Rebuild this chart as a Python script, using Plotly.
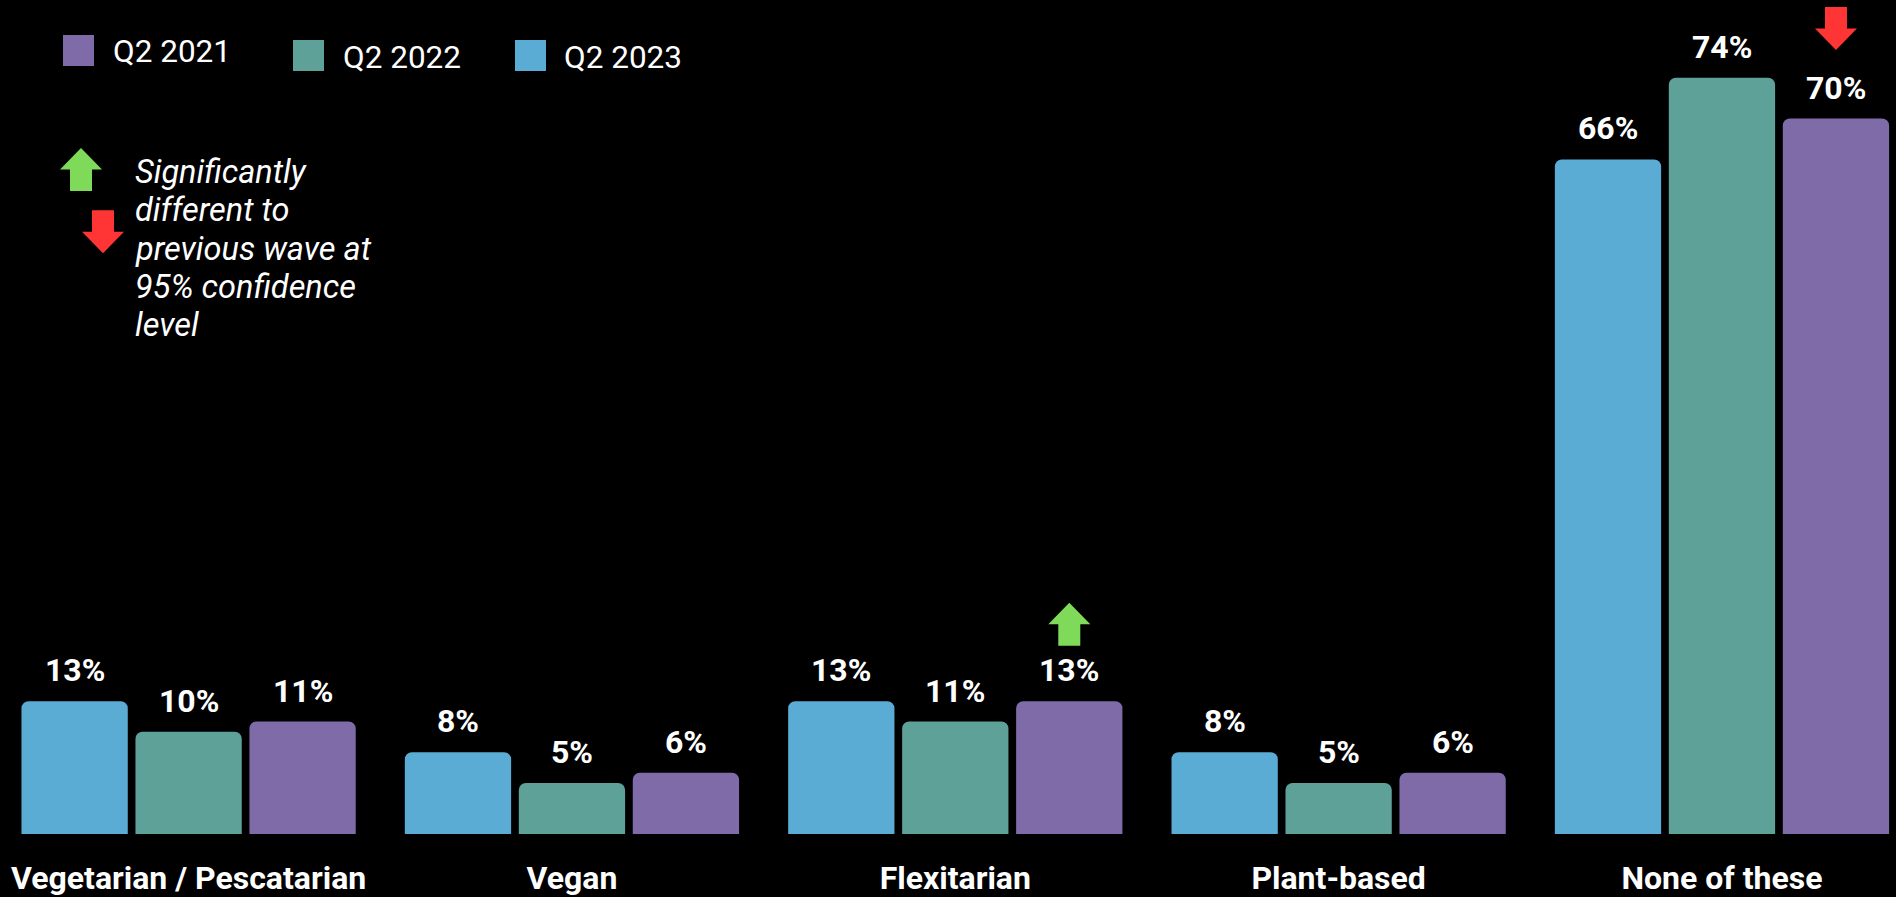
import plotly.graph_objects as go

categories = ["Vegetarian / Pescatarian", "Vegan", "Flexitarian", "Plant-based", "None of these"]
series_names = ["Q2 2023", "Q2 2022", "Q2 2021"]
q2_2023 = [13, 8, 13, 8, 66]
q2_2022 = [10, 5, 11, 5, 74]
q2_2021 = [11, 6, 13, 6, 70]
series_values = [q2_2023, q2_2022, q2_2021]
colors = ["#5BACD4", "#5EA199", "#7F6BA8"]
legend_order = [2, 1, 0]  # purple, teal, blue
note_lines = ["Significantly", "different to", "previous wave at", "95% confidence", "level"]

GREEN = "#80DA5A"
RED = "#FF3535"
W, H = 1896, 897
MB = 63
PH = H - MB  # plot height in px

fig = go.Figure()
for name, vals, col in zip(series_names, series_values, colors):
    fig.add_trace(go.Bar(x=list(range(len(categories))), y=vals, name=name,
                         marker=dict(color=col, line=dict(width=0)), showlegend=False))

slot = 0.2974
annotations = []
for k, vals in enumerate(series_values):
    for i, v in enumerate(vals):
        annotations.append(dict(x=i + (k - 1) * slot, y=v, xref="x", yref="y",
                                text=f"{v}%", showarrow=False, yanchor="middle", yshift=31,
                                font=dict(family="Roboto", size=32, color="white", weight="bold")))

# manual legend
leg_sq = [(63, 35), (293, 40), (515, 40)]
leg_tx = [111, 341, 562]
for j, k in enumerate(legend_order):
    x0, y0 = leg_sq[j]
    fig.add_shape(type="rect", xref="paper", yref="paper",
                  x0=x0 / W, x1=(x0 + 31) / W, y0=(PH - y0) / PH, y1=(PH - y0 - 31) / PH,
                  fillcolor=colors[k], line=dict(width=0), layer="above")
    annotations.append(dict(x=leg_tx[j] / W, y=(PH - (y0 + 17)) / PH, xref="paper", yref="paper",
                            text=series_names[k], showarrow=False, xanchor="left", yanchor="middle",
                            font=dict(family="Roboto", size=31.5, color="white")))

note_centers = [171.7, 210, 248.5, 287, 325]
for line, cy in zip(note_lines, note_centers):
    annotations.append(dict(x=133 / W, y=(PH - cy) / PH, xref="paper", yref="paper",
                            text=line, showarrow=False, xanchor="left", yanchor="middle",
                            align="left",
                            font=dict(family="Roboto", size=32.5, color="white", style="italic")))


def up_path(b):
    t = b + 43
    m = b + 21.5
    return f"M -11,{b} L 11,{b} L 11,{m} L 21,{m} L 0,{t} L -21,{m} L -11,{m} Z"


def down_path(b):
    t = b + 43
    m = b + 21.5
    return f"M -11,{t} L 11,{t} L 11,{m} L 21,{m} L 0,{b} L -21,{m} L -11,{m} Z"


def arrow(path, xref, yref, xa, ya, color):
    fig.add_shape(type="path", xref=xref, yref=yref, xsizemode="pixel", ysizemode="pixel",
                  xanchor=xa, yanchor=ya, path=path, fillcolor=color, line=dict(width=0), layer="above")


# significance arrows on bars
arrow(up_path(55.5), "x", "y", 2 + slot, q2_2021[2], GREEN)
arrow(down_path(68.5), "x", "y", 4 + slot, q2_2021[4], RED)
# key arrows
arrow(up_path(0), "paper", "paper", 81 / W, (PH - 191) / PH, GREEN)
arrow(down_path(0), "paper", "paper", 103 / W, (PH - 253.3) / PH, RED)

fig.update_layout(
    width=W, height=H,
    margin=dict(l=0, r=0, t=0, b=MB, pad=0),
    paper_bgcolor="black", plot_bgcolor="black",
    barmode="group", bargap=0.108, bargroupgap=0.0675, barcornerradius=7,
    showlegend=False,
    annotations=annotations,
    xaxis=dict(range=[-0.492, 4.454], tickmode="array", tickvals=list(range(len(categories))),
               ticktext=categories, showgrid=False, zeroline=False, showline=False, ticks="",
               tickfont=dict(family="Roboto", size=32, color="white", weight="bold"),
               ticklabelstandoff=22, fixedrange=True),
    yaxis=dict(range=[0, 81.6], visible=False, showgrid=False, zeroline=False, fixedrange=True),
)

fig.write_html("out.html")
